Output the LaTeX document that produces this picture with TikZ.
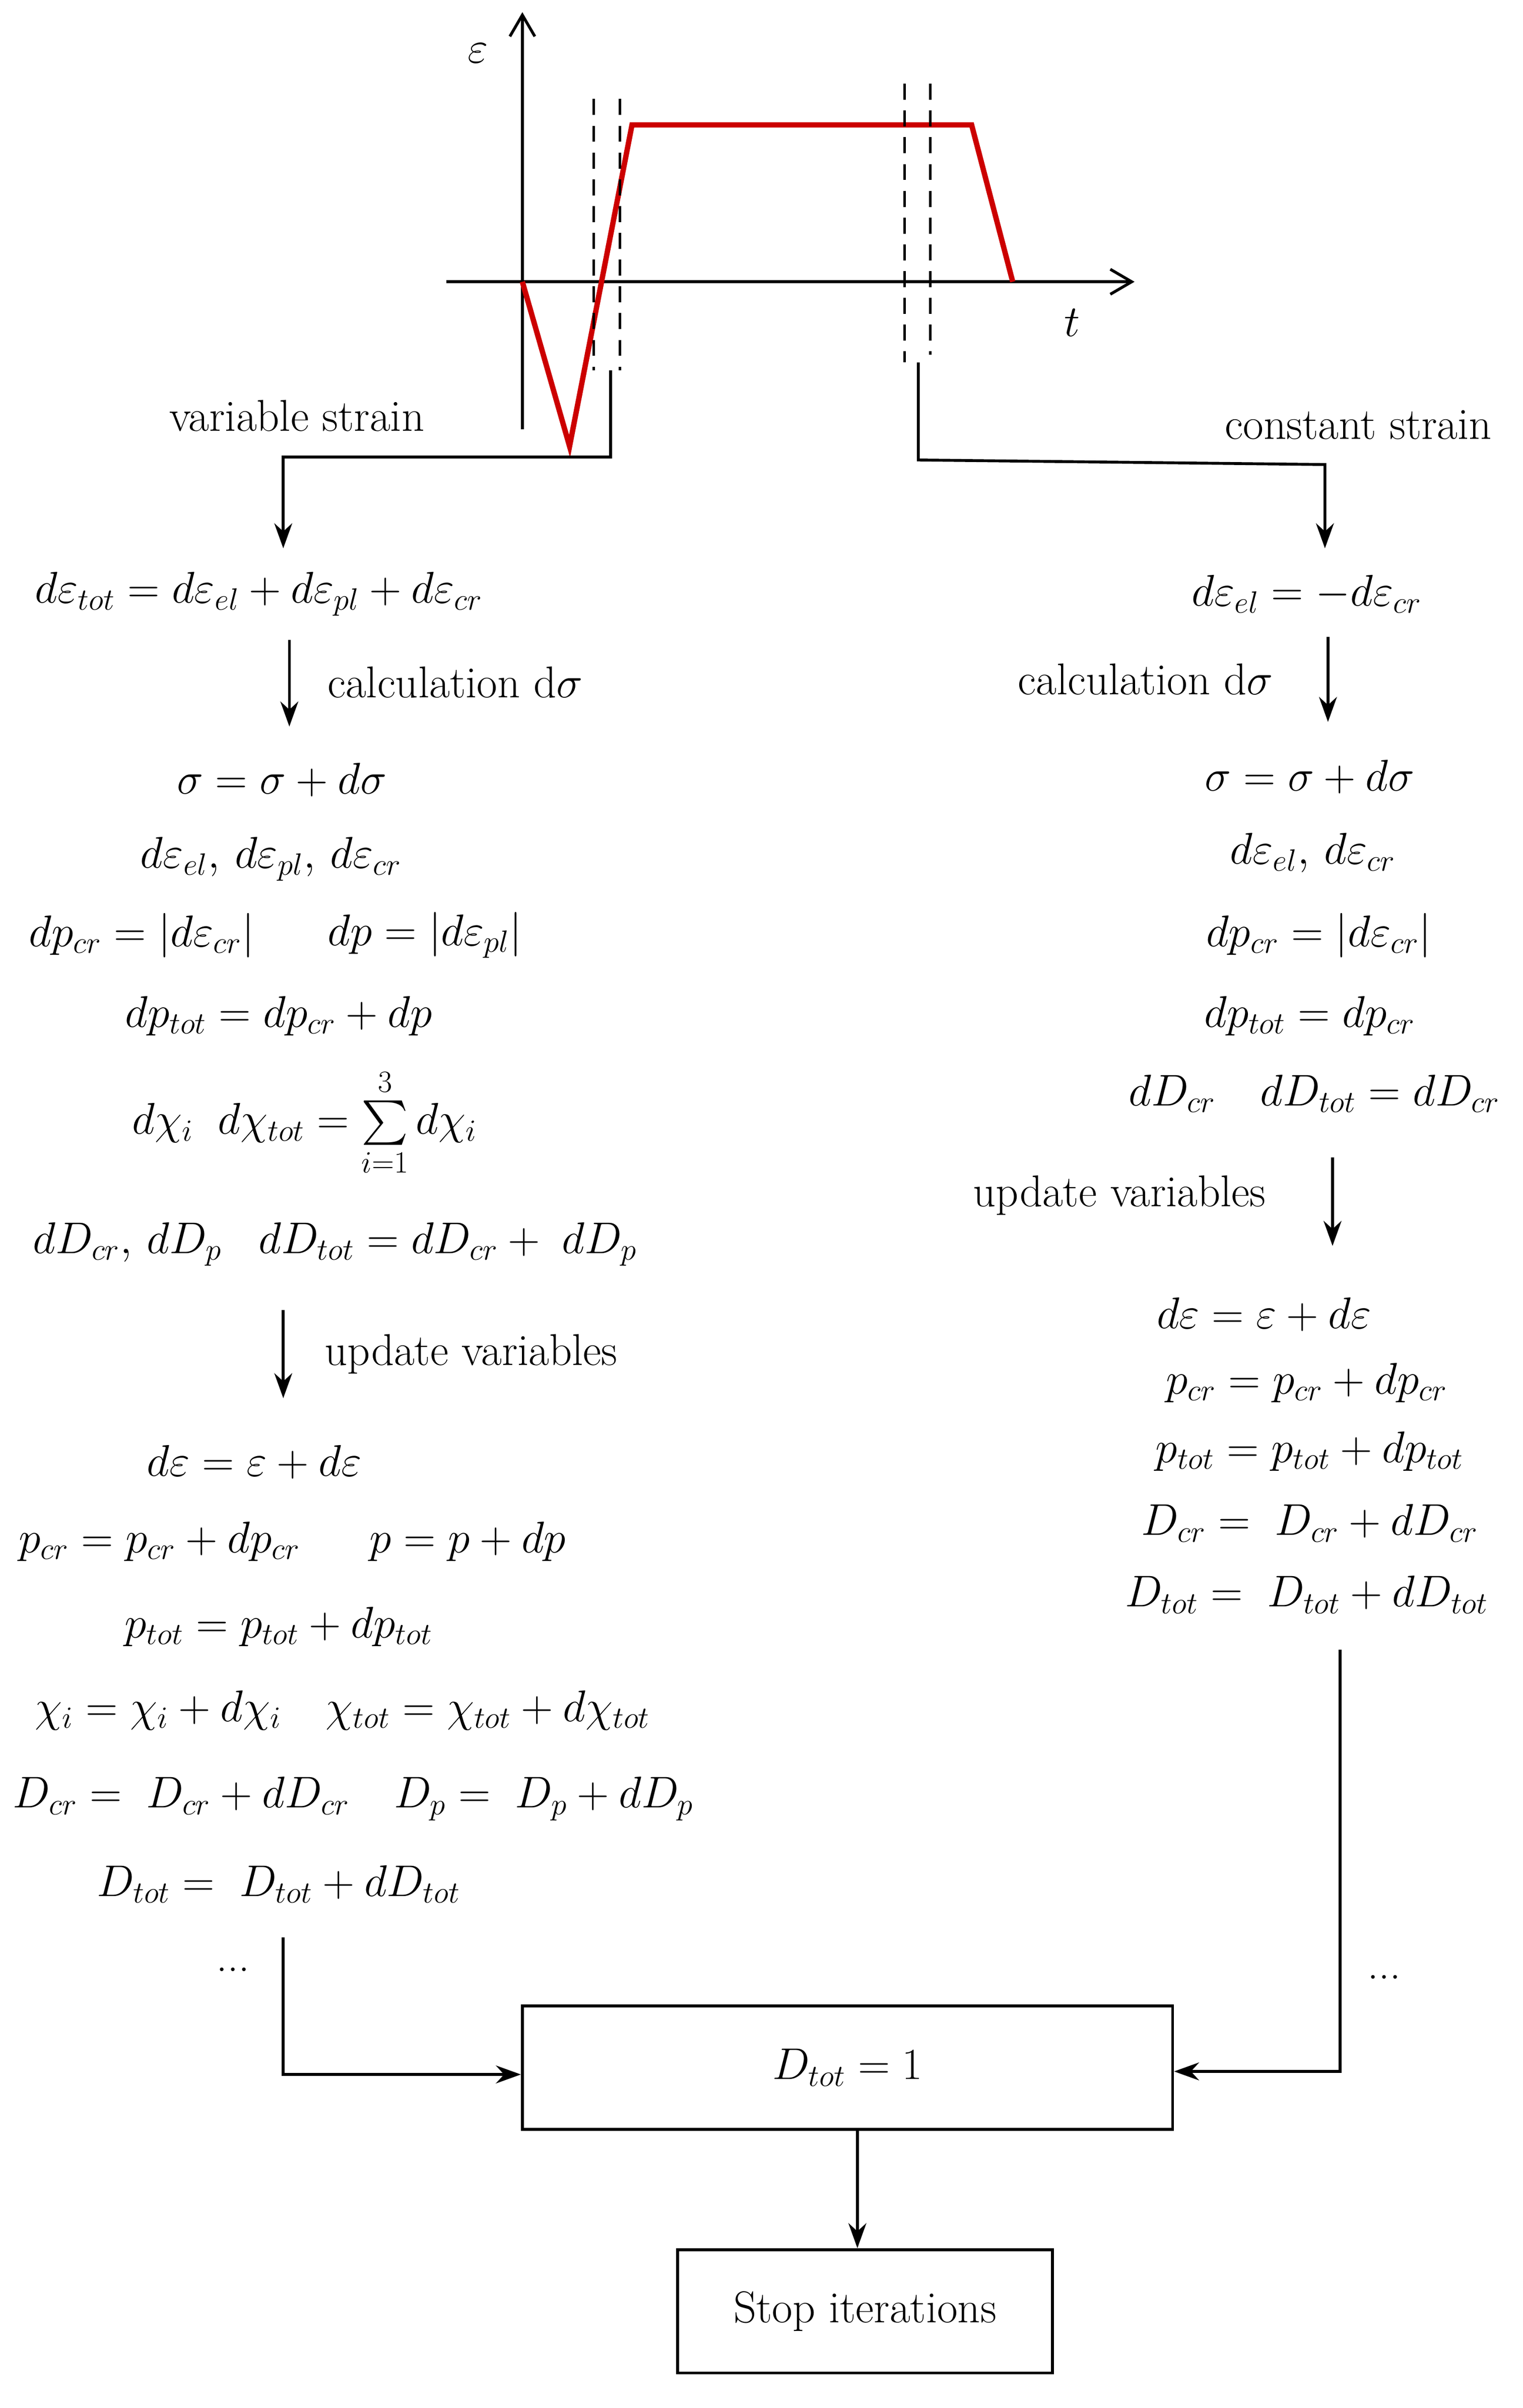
\documentclass[tikz,border=0pt]{standalone}
\usepackage{exscale}
\usepackage{amsmath}
\usetikzlibrary{arrows.meta}
\begin{document}
\begin{tikzpicture}[x=0.03cm,y=-0.03cm,
  every node/.style={font=\fontsize{25}{30}\selectfont},
  ln/.style={line width=1.6pt},
  ar/.style={ln,-{Stealth[length=14pt,width=10pt]}},
  dsh/.style={line width=1.4pt,dash pattern=on 9pt off 6pt},
  bx/.style={draw,line width=1.6pt,minimum width=427*0.03cm,minimum height=81*0.03cm}]
\useasboundingbox (0,0) rectangle (1000,1581);
% plot
\coordinate (yb) at (343,282); \coordinate (yt) at (343,8);
\coordinate (xl) at (293,185); \coordinate (xr) at (745,185);
\draw[ln,-{Straight Barb[length=12pt,width=14pt]}] (yb) -- (yt);
\draw[ln,-{Straight Barb[length=12pt,width=14pt]}] (xl) -- (xr);
\node (eps) at (314,35) {$\varepsilon$};
\node (t) at (704,212) {$t$};
\draw[red!80!black,line width=3pt] (343,185) -- (374,293) -- (415,82) -- (638,82) -- (665,185);
\draw[dsh] (390,65) -- (390,243); \draw[dsh] (407,65) -- (407,243);
\draw[dsh] (594,55) -- (594,238); \draw[dsh] (611,55) -- (611,233);
\coordinate (l0) at (401,243); \coordinate (r0) at (603,238);
\node (vs) at (195,273) {variable strain};
\node (cs) at (892,279) {constant strain};
% left column
\node (L1) at (170,390) {$d\varepsilon_{tot}=d\varepsilon_{el}+d\varepsilon_{pl}+d\varepsilon_{cr}$};
\draw[ar] (l0) -- (401,300) -- (186,300) -- (186,360);
\draw[ar] (190,420) -- (190,477);
\node[anchor=west] (lc) at (211,448) {calculation d$\sigma$};
\node (L2) at (185,512) {$\sigma=\sigma+d\sigma$};
\node (L3) at (178,564) {$d\varepsilon_{el},\,d\varepsilon_{pl},\,d\varepsilon_{cr}$};
\node (L4a) at (93,614) {$dp_{cr}=|d\varepsilon_{cr}|$};
\node (L4b) at (279,614) {$dp=|d\varepsilon_{pl}|$};
\node (L5) at (183,667) {$dp_{tot}=dp_{cr}+dp$};
\node (L6) at (200,737) {$d\chi_i\;\;d\chi_{tot}=\sum\limits_{i=1}^{3}d\chi_i$};
\node (L7) at (220,817) {$dD_{cr},\,dD_p\;\;\;dD_{tot}=dD_{cr}+\;dD_p$};
\draw[ar] (186,860) -- (186,918);
\node[anchor=west] (lu) at (209,889) {update variables};
\node (L8) at (167,960) {$d\varepsilon=\varepsilon+d\varepsilon$};
\node (L9) at (192,1012) {$p_{cr}=p_{cr}+dp_{cr}\quad\;\; p=p+dp$};
\node (L10) at (183,1068) {$p_{tot}=p_{tot}+dp_{tot}$};
\node (L11) at (225,1123) {$\chi_i=\chi_i+d\chi_i\quad\chi_{tot}=\chi_{tot}+d\chi_{tot}$};
\node (L12) at (232,1181) {$D_{cr}=\;D_{cr}+dD_{cr}\quad D_p=\;D_p+dD_p$};
\node (L13) at (183,1237) {$D_{tot}=\;D_{tot}+dD_{tot}$};
\node (ld) at (153,1293) {...};
% boxes
\node[bx] (B1) at (556.5,1357.5) {$D_{tot}=1$};
\node[draw,line width=1.6pt,minimum width=246*0.03cm,minimum height=81*0.03cm] (B2) at (568,1517.5) {Stop iterations};
\draw[ar] (186,1272) -- (186,1362) -- (B1.west |- 0,1362);
\draw[ar] (563,1398) -- (B2.north -| 563,0);
% right column
\draw[ar] (r0) -- (603,302) -- (870,305) -- (870,360);
\node (R1) at (858,390) {$d\varepsilon_{el}=-d\varepsilon_{cr}$};
\draw[ar] (872,418) -- (872,474);
\node[anchor=east] (rc) at (840,446) {calculation d$\sigma$};
\node (R2) at (860,510) {$\sigma=\sigma+d\sigma$};
\node (R3) at (862,560) {$d\varepsilon_{el},\,d\varepsilon_{cr}$};
\node (R4) at (866,614) {$dp_{cr}=|d\varepsilon_{cr}|$};
\node (R5) at (860,667) {$dp_{tot}=dp_{cr}$};
\node (R6) at (863,718) {$dD_{cr}\quad dD_{tot}=dD_{cr}$};
\node (ru) at (735,785) {update variables};
\draw[ar] (875,760) -- (875,818);
\node (R7) at (830,863) {$d\varepsilon=\varepsilon+d\varepsilon$};
\node (R8) at (858,908) {$p_{cr}=p_{cr}+dp_{cr}$};
\node (R9) at (860,953) {$p_{tot}=p_{tot}+dp_{tot}$};
\node (R10) at (860,1000) {$D_{cr}=\;D_{cr}+dD_{cr}$};
\node (R11) at (858,1047) {$D_{tot}=\;D_{tot}+dD_{tot}$};
\node (rd) at (909,1298) {...};
\draw[ar] (880,1083) -- (880,1360) -- (B1.east |- 0,1360);
\end{tikzpicture}
\end{document}
